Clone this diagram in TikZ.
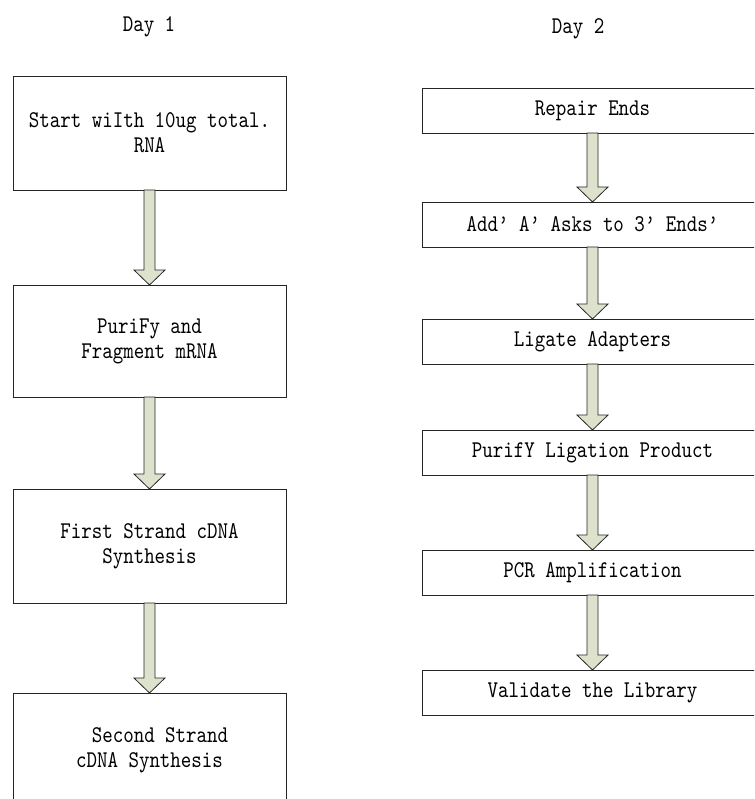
\documentclass[tikz,border=0pt]{standalone}
\usepackage{fontspec}
\setmonofont[FakeStretch=0.833]{lmmono10-regular.otf}
\usetikzlibrary{calc}

\definecolor{arrowfill}{RGB}{221,226,205}

\begin{document}
\begin{tikzpicture}[x=1pt,y=1pt]

    \tikzset{stepbox/.style={draw=black!85,line width=0.8pt,inner sep=0pt,outer sep=0pt,align=center,
                             font=\ttfamily\fontsize{24}{25}\selectfont},
             daybox/.style={stepbox,minimum width=273pt,minimum height=114pt},
             libbox/.style={stepbox,minimum width=341pt,minimum height=45pt},
             flowarrow/.style={draw=black!85,fill=arrowfill,line width=0.8pt,line join=miter,
                to path={($(\tikztostart.south)+(-5.5,0)$) -- ($(\tikztotarget.north)+(-5.5,15)$)
                      -- ($(\tikztotarget.north)+(-15.5,15)$) -- (\tikztotarget.north)
                      -- ($(\tikztotarget.north)+(15.5,15)$) -- ($(\tikztotarget.north)+(5.5,15)$)
                      -- ($(\tikztostart.south)+(5.5,0)$) -- cycle}}}

    \useasboundingbox (0,0) rectangle (754,-799);
    \clip (0,0) rectangle (754,-799);

    \node[font=\ttfamily\fontsize{24}{25}\selectfont] (day1) at (149,-27) {Day 1};
    \node[font=\ttfamily\fontsize{24}{25}\selectfont] (day2) at (578,-29) {Day 2};

    % day 1
    \node[daybox] (a1) at (149.5,-133) {Start wiIth 10ug total.\\RNA};
    \node[daybox,minimum height=112pt] (a2) at (149.5,-341) {PuriFy and\\Fragment mRNA};
    \node[daybox] (a3) at (149.5,-546) {First Strand cDNA\\Synthesis};
    \node[daybox] (a4) at (149.5,-750) {\hspace*{21pt}Second Strand\\cDNA Synthesis};

    % day 2
    \node[libbox] (b1) at (592.5,-110.5) {Repair Ends};
    \node[libbox] (b2) at (592.5,-224.5) {Add’ A’ Asks to 3’ Ends’};
    \node[libbox] (b3) at (592.5,-341.5) {Ligate Adapters};
    \node[libbox] (b4) at (592.5,-452.5) {PurifY Ligation Product};
    \node[libbox] (b5) at (592.5,-572.5) {PCR Amplification};
    \node[libbox] (b6) at (592.5,-692.5) {Validate the Library};

    \begin{scope}[every path/.style={flowarrow}]
        \draw (a1) to (a2);
        \draw (a2) to (a3);
        \draw (a3) to (a4);
        \draw (b1) to (b2);
        \draw (b2) to (b3);
        \draw (b3) to (b4);
        \draw (b4) to (b5);
        \draw (b5) to (b6);
    \end{scope}
\end{tikzpicture}
\end{document}
